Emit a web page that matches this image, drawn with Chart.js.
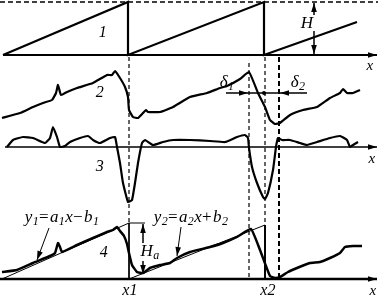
<!DOCTYPE html>
<html><head><meta charset="utf-8">
<script src="https://cdn.jsdelivr.net/npm/chart.js@4.4.0/dist/chart.umd.min.js"></script>
<style>html,body{margin:0;padding:0;background:#fff;}canvas{display:block;}</style>
</head><body>
<canvas id="c" width="378" height="298"></canvas>
<script>
// Values: x = horizontal position, y = depth from top
const sawX = [3,128,128,264,264,357];
const sawY = [55,2,55,2,55,22];

const t2X = [2,20,33,43,52,56,58,61,67,77,93,107,112,115,120,125,128,129,133,138,143,146,148,160,173,190,207,220,227,240,249,258,265,270,275,280,290,303,317,330,340,343,347,353,360];
const t2Y = [118,113,107,103,100,93,85,95,92,88,83,75,75,71,78,87,97,110,117,118,113,110,112,112,107,97,93,88,86,79,72,93,107,120,124,123,115,110,107,98,93,89,93,93,90];

const t3X = [7,13,23,33,45,50,53,57,60,65,70,80,88,93,100,110,115,117,120,123,128,132,135,138,142,145,153,163,173,190,210,225,237,245,248,249,252,257,263,265,268,273,276,278,282,290,300,307,317,330,340,347,350,353,358];
const t3Y = [147,140,137,138,143,138,127,137,147,146,142,138,136,140,143,138,137,147,163,183,202,200,183,163,143,140,145,142,140,140,141,142,137,135,138,148,167,183,197,199,193,170,147,138,140,140,143,145,142,138,136,140,147,145,142];

const t4X = [2,17,33,50,55,58,60,62,77,93,107,113,117,120,124,127,129,132,137,143,150,160,170,177,190,210,223,237,251,260,270,275,280,288,297,310,320,330,340,345,353,362];
const t4Y = [272,270,263,256,253,243,247,252,245,238,232,230,227,231,236,244,253,265,272,273,268,265,263,258,252,247,243,237,229,250,276,278,277,272,268,263,262,258,253,247,246,246];

// fitted straight lines y1, y2 (thin)
const fit1X = [2,129,145];
const fit1Y = [279,223,223];
const fit2X = [129,265,265];
const fit2Y = [279,225,279];

// reference markers
const markX = [129,249,265,279];
const axisY = [55,147,279];

function seg(xs, ys){ return xs.map((x,i)=>({x:x,y:ys[i]})); }
function ds(points, w, dash){ return {data:points, showLine:true, borderColor:'#000', borderWidth:w, pointRadius:0, borderDash:dash||[], tension:0, fill:false, clip:false}; }
function dsc(points, w){ const d = ds(points,w); d.tension = 0.12; return d; }

const datasets = [
  ds(seg([0,378],[2,2]),1.5,[5,3]),
  ds(seg([3,377],[axisY[0],axisY[0]]),2),
  ds(seg([5,377],[axisY[1],axisY[1]]),1.5),
  ds(seg([0,377],[axisY[2],axisY[2]]),2.5),
  ds(seg(sawX,sawY),2.2),
  dsc(seg(t2X,t2Y),2.2),
  dsc(seg(t3X,t3Y),2.2),
  dsc(seg(t4X,t4Y),2.5),
  ds(seg([markX[0],markX[0]],[57,223]),1.2,[4,3]),
  ds(seg([markX[0],markX[0]],[223,279]),1),
  ds(seg([markX[1],markX[1]],[63,279]),1.2,[4,3]),
  ds(seg([markX[2],markX[2]],[57,225]),1.2,[4,3]),
  ds(seg([markX[2],markX[2]],[225,279]),1),
  ds(seg([markX[3],markX[3]],[57,279]),2,[5,3]),
  ds(seg(fit1X,fit1Y),1),
  ds(seg(fit2X,fit2Y),1),
  ds(seg([314,314],[3,15]),1.5),
  ds(seg([314,314],[31,54]),1.5),
  ds(seg([226,307],[93,93]),1.5),
  ds(seg([143,143],[224,243]),1.5),
  ds(seg([143,143],[261,274]),1.5),
  ds(seg([49,37],[228,260]),1),
  ds(seg([181,177],[227,256]),1)
];

const arrows = [
  [360,55,377,55],[360,147,377,147],[360,279,377,279],
  [314,20,314,3],[314,40,314,54],
  [230,93,248,93],[300,93,280,93],
  [143,240,143,224],[143,262,143,274],
  [49,228,37,260],[181,227,177,256]
];

const SERIF = '"Liberation Serif","DejaVu Serif",serif';
const labels = [
  {x:103,y:33,s:16,parts:[['1','n']]},
  {x:100,y:93,s:16,parts:[['2','n']]},
  {x:100,y:167,s:16,parts:[['3','n']]},
  {x:104,y:253,s:16,parts:[['4','n']]},
  {x:307,y:24,s:17,parts:[['H','n']]},
  {x:227,y:83,s:17,parts:[['δ','n'],['1','s']]},
  {x:298,y:83,s:17,parts:[['δ','n'],['2','s']]},
  {x:370,y:66,s:15,parts:[['x','n']]},
  {x:372,y:159,s:15,parts:[['x','n']]},
  {x:373,y:291,s:15,parts:[['x','n']]},
  {x:150,y:252,s:17,parts:[['H','n'],['a','s']]},
  {x:130,y:291,s:16,parts:[['x1','n']]},
  {x:268,y:291,s:16,parts:[['x2','n']]},
  {x:62,y:218,s:17,parts:[['y','n'],['1','s'],['=','u'],['a','n'],['1','s'],['x','n'],['−','u'],['b','n'],['1','s']]},
  {x:191,y:218,s:17,parts:[['y','n'],['2','s'],['=','u'],['a','n'],['2','s'],['x','n'],['+','u'],['b','n'],['2','s']]}
];

const deco = {
  id:'deco',
  afterDatasetsDraw(chart){
    const ctx = chart.ctx, sx = chart.scales.x, sy = chart.scales.y;
    ctx.save();
    ctx.fillStyle = '#000';
    arrows.forEach(a=>{
      const x0=sx.getPixelForValue(a[0]), y0=sy.getPixelForValue(a[1]);
      const x1=sx.getPixelForValue(a[2]), y1=sy.getPixelForValue(a[3]);
      const ang=Math.atan2(y1-y0,x1-x0), L=9, W=2.8;
      ctx.beginPath();
      ctx.moveTo(x1,y1);
      ctx.lineTo(x1-L*Math.cos(ang)+W*Math.sin(ang), y1-L*Math.sin(ang)-W*Math.cos(ang));
      ctx.lineTo(x1-L*Math.cos(ang)-W*Math.sin(ang), y1-L*Math.sin(ang)+W*Math.cos(ang));
      ctx.closePath(); ctx.fill();
    });
    ctx.beginPath();
    ctx.arc(sx.getPixelForValue(264), sy.getPixelForValue(93), 2, 0, Math.PI*2);
    ctx.fill();
    ctx.textBaseline = 'middle';
    labels.forEach(l=>{
      const fontFor = p => (p[1]==='u' ? '' : 'italic ') + Math.round(p[1]==='s' ? l.s*0.68 : l.s) + 'px ' + SERIF;
      const gap = p => (p[1]==='u' ? 1.5 : 0.3);
      let total = 0;
      l.parts.forEach(p=>{ ctx.font = fontFor(p); total += ctx.measureText(p[0]).width + gap(p); });
      let x = sx.getPixelForValue(l.x) - total/2;
      const y = sy.getPixelForValue(l.y);
      l.parts.forEach(p=>{
        ctx.font = fontFor(p);
        ctx.textAlign = 'left';
        ctx.fillText(p[0], x, p[1]==='s' ? y + l.s*0.22 : y);
        x += ctx.measureText(p[0]).width + gap(p);
      });
    });
    ctx.restore();
  }
};

new Chart(document.getElementById('c'), {
  type:'scatter',
  data:{datasets:datasets},
  options:{
    responsive:false, animation:false, events:[],
    layout:{padding:0},
    plugins:{legend:{display:false}, tooltip:{enabled:false}},
    scales:{
      x:{type:'linear', min:0, max:378, display:false},
      y:{type:'linear', min:0, max:298, reverse:true, display:false}
    }
  },
  plugins:[deco]
});
</script>
</body></html>
